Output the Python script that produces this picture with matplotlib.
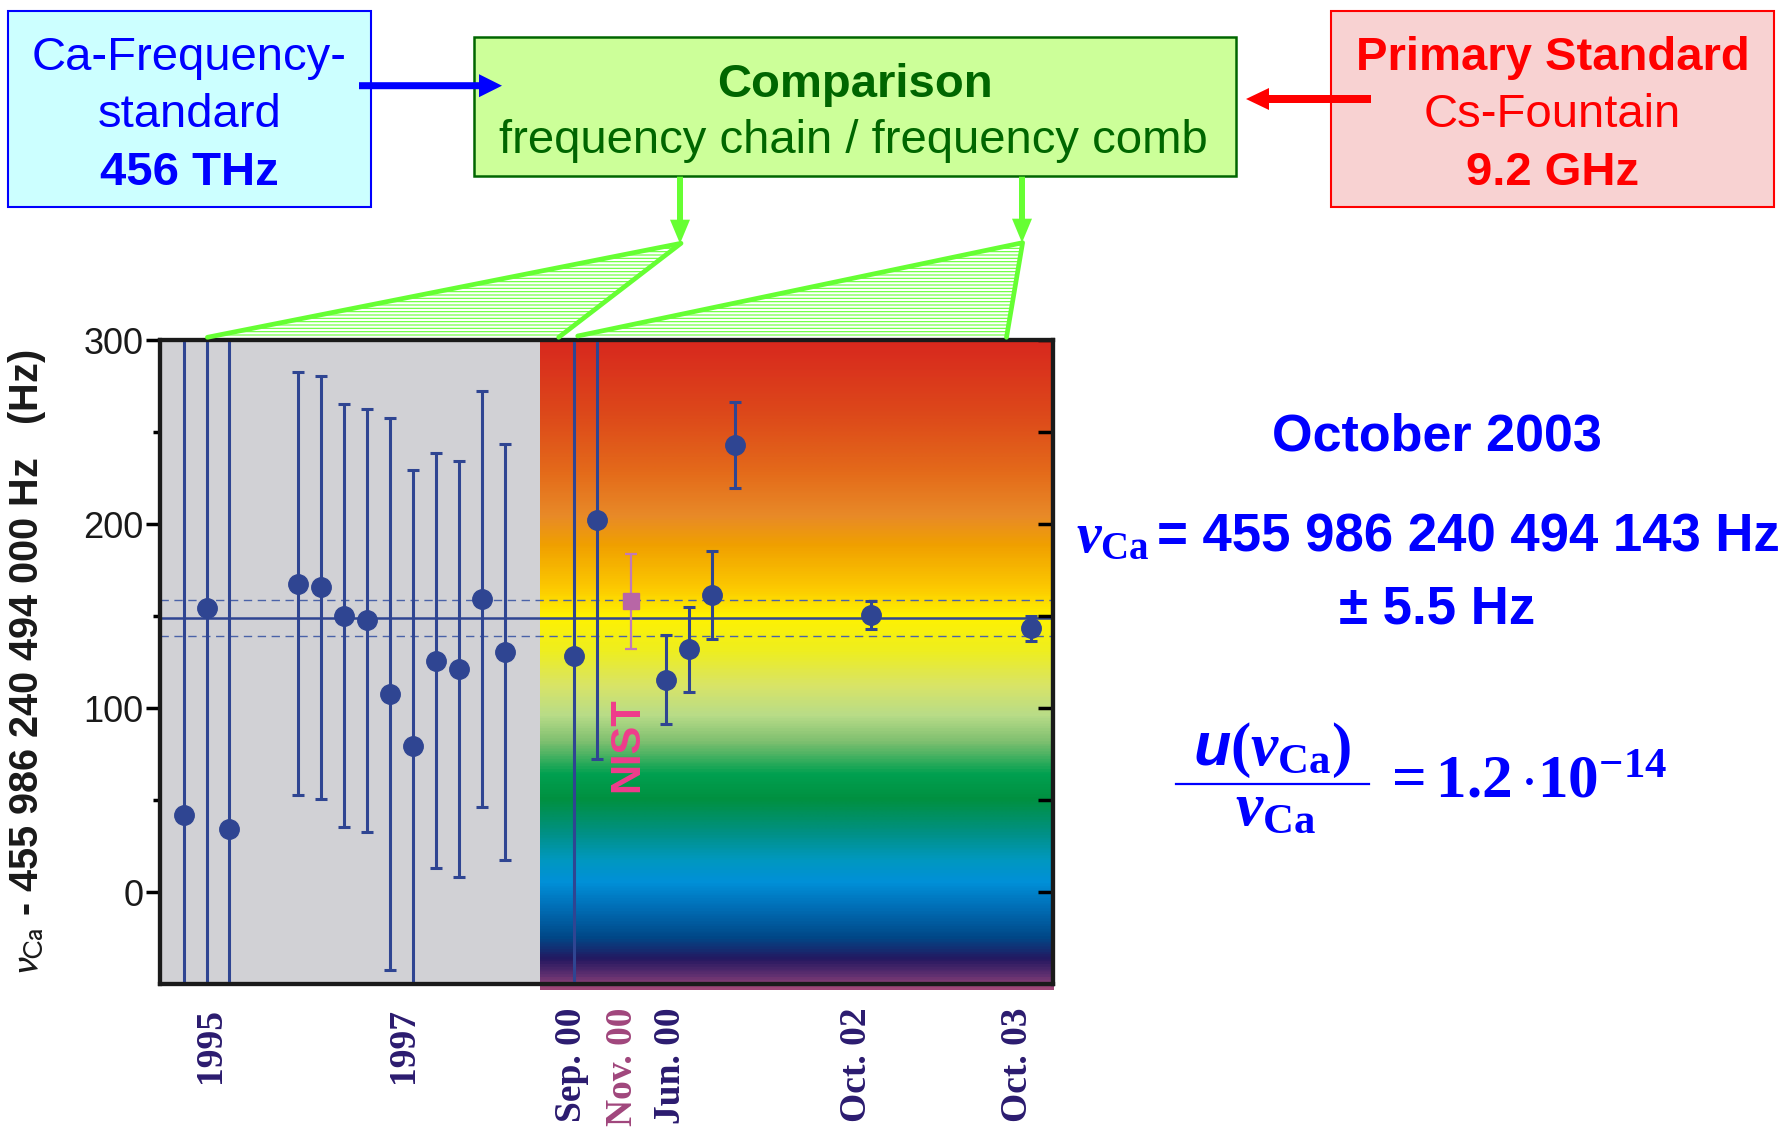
import numpy as np
import matplotlib
matplotlib.use('Agg')
import matplotlib.pyplot as plt
from matplotlib.colors import LinearSegmentedColormap, Normalize
from matplotlib.patches import Rectangle, Polygon, FancyArrow

plt.rcParams['mathtext.fontset'] = 'custom'
plt.rcParams['mathtext.rm'] = 'Liberation Serif:bold'
plt.rcParams['mathtext.it'] = 'Liberation Serif:italic:bold'
plt.rcParams['mathtext.bf'] = 'Liberation Serif:bold'
plt.rcParams['mathtext.sf'] = 'Liberation Sans:bold:italic'
plt.rcParams['hatch.linewidth'] = 0.8

# ---------------- data ----------------
# measurement epoch positions (arbitrary time-axis units) and offsets in Hz
pos_main = [1.05, 2.05, 3.0, 6, 7, 8, 9, 10, 11, 12, 13, 14, 15,
            18, 19, 22, 23, 24, 25, 30.93, 37.87]
val_main = [42.0, 154.2, 34.0, 167.6, 165.6, 150.1, 147.7, 107.4, 79.4,
            125.8, 121.4, 159.1, 130.4,
            128.3, 202.1, 115.4, 131.9, 161.3, 242.9, 150.6, 143.3]
err_main = [300, 300, 300, 115, 115, 115, 115, 150, 150, 113, 113, 113, 113,
            300, 130, 24.3, 23, 24, 23.3, 7.8, 6.7]
pos_nist = [20.47]
val_nist = [157.9]
err_nist = [26]
mean_val = 149.0
mean_unc = 9.8
era_split = 16.52
x_max = 38.83
xtick_pos = [2.2, 10.6, 17.9, 20.1, 22.2, 30.3, 37.3]
xtick_labels = ['1995', '1997', 'Sep. 00', 'Nov. 00', 'Jun. 00', 'Oct. 02', 'Oct. 03']
xtick_colors = ['#2b1b6f', '#2b1b6f', '#2b1b6f', '#a0467c', '#2b1b6f', '#2b1b6f', '#2b1b6f']
ytick_major = [0, 100, 200, 300]
ytick_minor = [50, 150, 250]
ytick_right = [0, 50, 100, 150, 200, 250, 300]
y_lo, y_hi = -50, 300

# rainbow background (value -> colour)
rb_vals = [300, 259, 229, 205, 189, 166, 150, 131, 112, 96, 82, 64, 50, 33, 17, 5, -8, -25, -37, -46, -53]
rb_cols = ['#d8281e', '#dd4a1a', '#e46a1a', '#e88a28', '#f0a000', '#fcc800', '#fff200',
           '#eeee20', '#d8e468', '#b8dc88', '#80c070', '#00a050', '#009040', '#009080',
           '#0098c0', '#0090d8', '#0070b8', '#004888', '#241860', '#603070', '#a04878']

# ---------------- figure ----------------
W, H = 1790, 1131
fig = plt.figure(figsize=(W / 100, H / 100), dpi=100)
ax = fig.add_axes([160 / W, 1 - 984 / H, 893 / W, 644 / H])

ax.axvspan(0, era_split, color='#d1d1d5', zorder=0.3, lw=0)
lo = min(rb_vals)
hi = max(rb_vals)
cmap = LinearSegmentedColormap.from_list(
    'rb', [((v - lo) / (hi - lo), c) for v, c in sorted(zip(rb_vals, rb_cols))])
grad = np.linspace(hi, lo, 700).reshape(-1, 1)
ax.imshow(grad, cmap=cmap, norm=Normalize(lo, hi), extent=(era_split, x_max, lo, hi),
          aspect='auto', origin='upper', zorder=0.4, clip_on=False, interpolation='bilinear')

navy = '#2f4592'
ax.axhline(mean_val, color=navy, lw=1.8, zorder=2)
for s in (-1, 1):
    ax.axhline(mean_val + s * mean_unc, color='#4a62a8', lw=1.0, ls=(0, (6, 4)), zorder=2)

ax.errorbar(pos_main, val_main, yerr=err_main, fmt='o', color=navy, ms=14,
            elinewidth=2.2, capsize=4.2, capthick=2.2, zorder=3)
ax.errorbar(pos_nist, val_nist, yerr=err_nist, fmt='s', color='#b866a6', ecolor='#c279b8',
            ms=12, elinewidth=1.6, capsize=4.2, capthick=1.6, zorder=3)
ax.text(20.3, 80, 'NIST', rotation=90, ha='center', va='center', color='#f03c8c',
        fontsize=30, fontweight='bold', family='Liberation Sans', zorder=4)

ax.set_xlim(0, x_max)
ax.set_ylim(y_lo, y_hi)
ax.set_yticks(ytick_major)
ax.set_yticks(ytick_minor, minor=True)
ax.set_yticklabels([str(v) for v in ytick_major], family='Liberation Sans', fontsize=26,
                   color='#1a1a1a')
ax.tick_params(axis='y', which='major', direction='out', length=10, width=2.5, pad=2)
ax.tick_params(axis='y', which='minor', direction='out', length=5, width=2.5)
ax.set_xticks(xtick_pos)
ax.set_xticklabels(xtick_labels, rotation=90, family='Liberation Serif',
                   fontweight='bold', fontsize=27)
for lab, c in zip(ax.get_xticklabels(), xtick_colors):
    lab.set_color(c)
ax.tick_params(axis='x', length=0, pad=17)
for sp in ax.spines.values():
    sp.set_linewidth(3)
    sp.set_color('#1a1a1a')

ax2 = ax.twinx()
ax2.set_ylim(y_lo, y_hi)
ax2.set_yticks(ytick_right)
ax2.tick_params(axis='y', direction='in', length=11, width=2.5, labelright=False)
for sp in ax2.spines.values():
    sp.set_linewidth(3)
    sp.set_color('#1a1a1a')

ax.set_ylabel(r'$\nu_{\mathrm{Ca}}$ - 455 986 240 494 000 Hz   (Hz)', family='Liberation Sans',
              fontweight='bold', fontsize=28.5, color='#1a1a1a', math_fontfamily='stixsans')
ax.yaxis.set_label_coords(-0.125, 0.5)

# ---------------- overlay (pixel coordinates) ----------------
ov = fig.add_axes([0, 0, 1, 1], zorder=5)
ov.set_xlim(0, W)
ov.set_ylim(H, 0)
ov.axis('off')

green = '#66ff33'
for tri in ([(207.4, 337.3), (681, 243.3), (558.7, 337.3)],
            [(577.7, 336), (1022.6, 242.7), (1006.5, 337.3)]):
    ov.add_patch(Polygon(tri, closed=True, facecolor='none', edgecolor=green, lw=0,
                         hatch='-----'))
    xs, ys = zip(*tri)
    ov.plot(xs, ys, color=green, lw=3.4, solid_capstyle='round', solid_joinstyle='round')

ov.add_patch(Rectangle((8, 10.7), 363, 196, fc='#ccffff', ec='#0000ff', lw=1.5))
ov.add_patch(Rectangle((474, 37.3), 762, 138.7, fc='#ccff99', ec='#006600', lw=1.8))
ov.add_patch(Rectangle((1331, 10.7), 443, 196, fc='#f8d2d2', ec='#ff0000', lw=1.5))

ov.add_patch(FancyArrow(359, 85.7, 143, 0, width=7, head_width=23, head_length=23,
                        length_includes_head=True, color='#0000ff', lw=0, zorder=6))
ov.add_patch(FancyArrow(1371, 99, -125, 0, width=8, head_width=22, head_length=23,
                        length_includes_head=True, color='#ff0000', lw=0, zorder=6))
ov.add_patch(FancyArrow(680, 176.7, 0, 67, width=6, head_width=20, head_length=24,
                        length_includes_head=True, color=green, lw=0, zorder=6))
ov.add_patch(FancyArrow(1022, 176.7, 0, 66, width=6, head_width=20, head_length=24,
                        length_includes_head=True, color=green, lw=0, zorder=6))

blue = '#0000ff'
sans = 'Liberation Sans'
ov.text(189.5, 70, 'Ca-Frequency-', ha='center', va='baseline', fontsize=34, color=blue, family=sans)
ov.text(189.5, 126.7, 'standard', ha='center', va='baseline', fontsize=34, color=blue, family=sans)
ov.text(189.5, 185, '456 THz', ha='center', va='baseline', fontsize=34, color=blue, family=sans,
        fontweight='bold')

dg = '#006600'
ov.text(855, 96.7, 'Comparison', ha='center', va='baseline', fontsize=34, color=dg, family=sans,
        fontweight='bold')
ov.text(853, 153.3, 'frequency chain / frequency comb', ha='center', va='baseline', fontsize=34,
        color=dg, family=sans)

red = '#ff0000'
ov.text(1552.6, 70, 'Primary Standard', ha='center', va='baseline', fontsize=34, color=red,
        family=sans, fontweight='bold')
ov.text(1552.6, 126.7, 'Cs-Fountain', ha='center', va='baseline', fontsize=34, color=red, family=sans)
ov.text(1552.6, 185, '9.2 GHz', ha='center', va='baseline', fontsize=34, color=red, family=sans,
        fontweight='bold')

ov.text(1437, 450.7, 'October 2003', ha='center', va='baseline', fontsize=37.5, color=blue,
        family=sans, fontweight='bold')
ov.text(1150, 551.7, r'$\nu_{\mathbf{Ca}}$', ha='right', va='baseline', fontsize=40, color=blue)
ov.text(1157, 551.7, '= 455 986 240 494 143 Hz', ha='left', va='baseline', fontsize=38,
        color=blue, family=sans, fontweight='bold')
ov.text(1437, 623, '± 5.5 Hz', ha='center', va='baseline', fontsize=38, color=blue,
        family=sans, fontweight='bold')

ov.text(1272, 765, r'$\mathsf{u}(\nu_{\mathbf{Ca}})$', ha='center', va='baseline', fontsize=44,
        color=blue)
ov.plot([1176.5, 1369], [784, 784], color=blue, lw=1.6)
ov.text(1275, 825, r'$\nu_{\mathbf{Ca}}$', ha='center', va='baseline', fontsize=44, color=blue)
ov.text(1382, 798, r'$=1.2\,{\cdot}10^{-14}$', ha='left', va='baseline', fontsize=44, color=blue)

fig.savefig('out.png', dpi=100)
